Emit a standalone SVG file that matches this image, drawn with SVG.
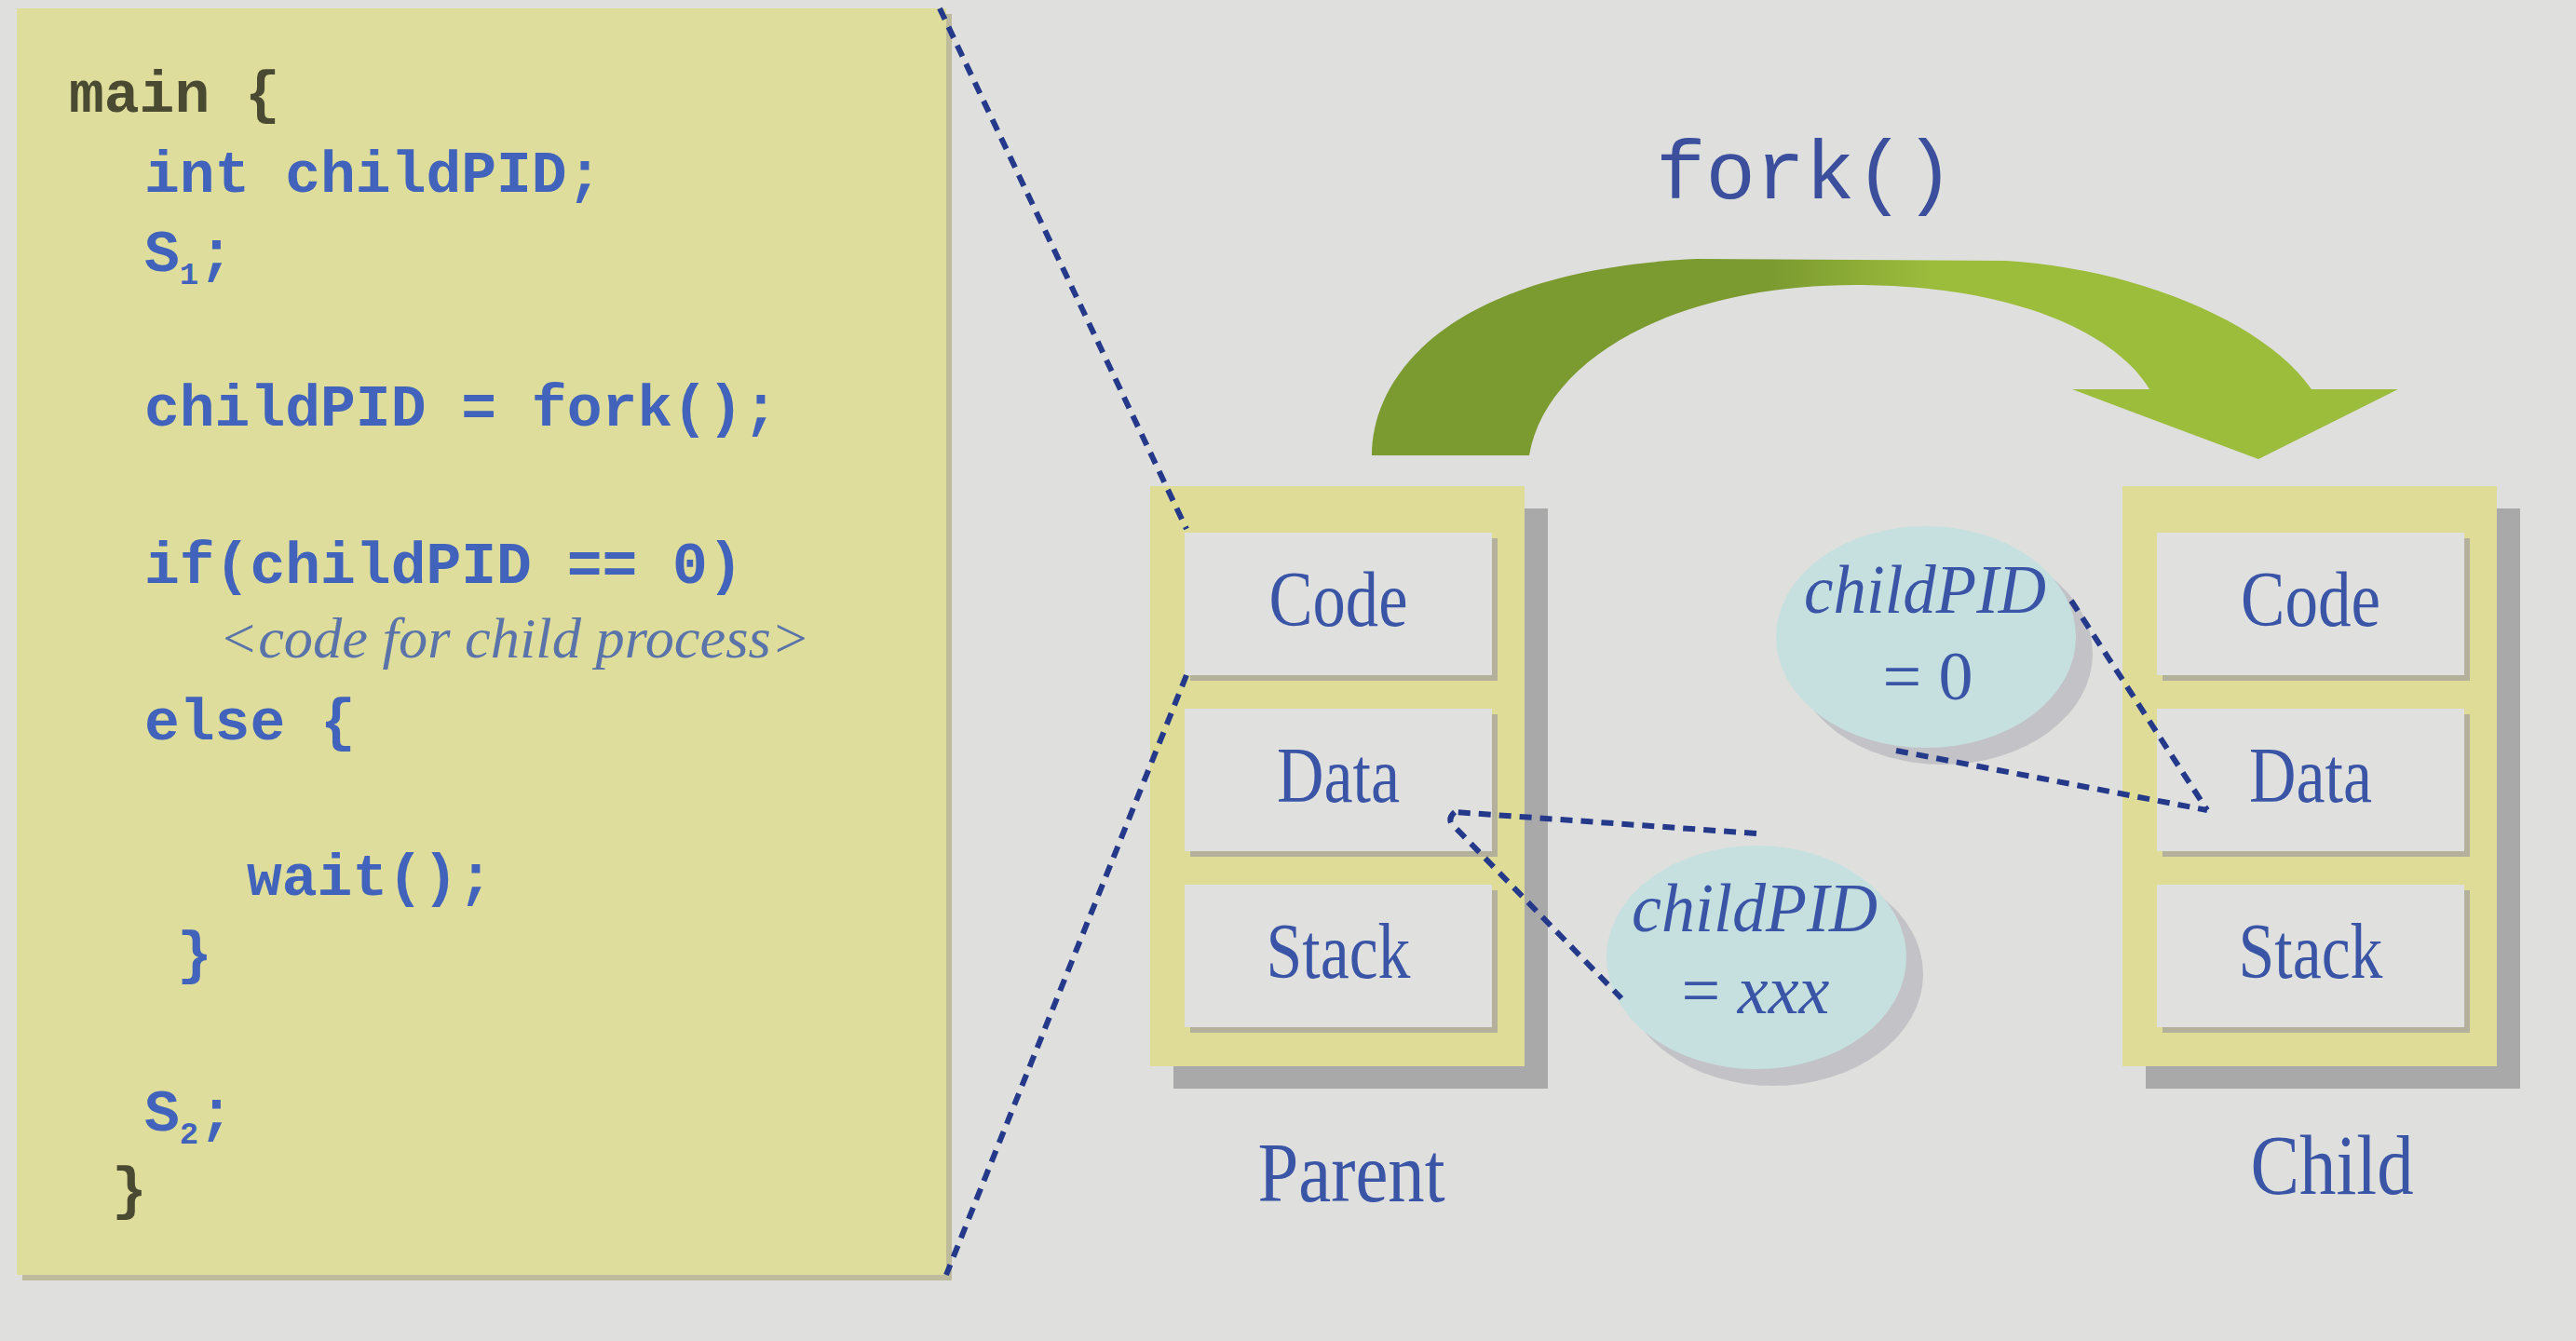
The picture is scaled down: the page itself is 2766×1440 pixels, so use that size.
<svg xmlns="http://www.w3.org/2000/svg" width="2766" height="1440" viewBox="0 0 2766 1440">
<defs>
<linearGradient id="arrowGrad" gradientUnits="userSpaceOnUse" x1="1900" y1="0" x2="2080" y2="0">
<stop offset="0" stop-color="#7b9a30"/>
<stop offset="1" stop-color="#9cbd3c"/>
</linearGradient>
<style>
.code{font-family:"Liberation Mono","DejaVu Sans Mono",monospace;font-weight:bold;font-size:63px;fill:#4163bb}
.dark{fill:#4a4a32}
.note{font-family:"Liberation Serif","DejaVu Serif",serif;font-style:italic;font-size:62px;fill:#5a74aa}
.lbl{font-family:"Liberation Serif","DejaVu Serif",serif;font-size:84px;fill:#3a55a6;text-anchor:middle}
.cap{font-family:"Liberation Serif","DejaVu Serif",serif;font-size:92px;fill:#3a55a6;text-anchor:middle}
.ell{font-family:"Liberation Serif","DejaVu Serif",serif;font-size:74px;fill:#3a55a6;text-anchor:middle}
.it{font-style:italic}
.yel{fill:#dfdc98}
.shadow{fill:#a9a9a9}
.inner{fill:#e0e0de}
.innersh{fill:#b3b19c}
.bubble{fill:#c6e0e0}
.bubsh{fill:#c3c3c7}
.dash{fill:none;stroke:#24398a;stroke-width:6;stroke-dasharray:13 9;stroke-linecap:butt}
</style>
</defs>
<rect x="0" y="0" width="2766" height="1440" fill="#dfdfdd"/>

<g id="code-panel">
<rect x="24" y="15" width="998" height="1360" fill="#bdbb9c"/>
<rect x="18" y="9" width="998" height="1360" fill="#dedd9b"/>
<text class="code dark" x="74" y="120">main {</text>
<text class="code" x="155" y="206">int childPID;</text>
<text class="code" x="155" y="291">S<tspan font-size="34" dy="14">1</tspan><tspan dy="-14">;</tspan></text>
<text class="code" x="155" y="457">childPID = fork();</text>
<text class="code" x="155" y="626">if(childPID == 0)</text>
<text class="note" x="235" y="706" textLength="635" lengthAdjust="spacingAndGlyphs">&lt;code for child process&gt;</text>
<text class="code" x="155" y="794">else {</text>
<text class="code" x="265" y="961">wait();</text>
<text class="code" x="190" y="1044">}</text>
<text class="code" x="155" y="1214">S<tspan font-size="34" dy="14">2</tspan><tspan dy="-14">;</tspan></text>
<text class="code dark" x="120" y="1297">}</text>
</g>

<g id="fork-arrow">
<text x="1778" y="213" font-family="'Liberation Mono','DejaVu Sans Mono',monospace" font-size="89" fill="#3c4f9c">fork()</text>
<path d="M1473 489 C1473 400 1560 290 1822 278 L2154 280 C2290 288 2432 345 2482 418 L2575 418 L2425 493 L2225 418 L2308 418 C2272 358 2165 308 2000 306 C1800 304 1660 385 1642 489 Z" fill="url(#arrowGrad)"/>
</g>

<g id="parent">
<rect class="shadow" x="1260" y="546" width="402" height="623"/>
<rect class="yel" x="1235" y="522" width="402" height="623"/>
<rect class="innersh" x="1278" y="578" width="330" height="153"/>
<rect class="inner" x="1272" y="572" width="330" height="153"/>
<rect class="innersh" x="1278" y="767" width="330" height="153"/>
<rect class="inner" x="1272" y="761" width="330" height="153"/>
<rect class="innersh" x="1278" y="956" width="330" height="153"/>
<rect class="inner" x="1272" y="950" width="330" height="153"/>
<text class="lbl" x="1437" y="672" textLength="149" lengthAdjust="spacingAndGlyphs">Code</text>
<text class="lbl" x="1437" y="861" textLength="132" lengthAdjust="spacingAndGlyphs">Data</text>
<text class="lbl" x="1437" y="1050" textLength="155" lengthAdjust="spacingAndGlyphs">Stack</text>
<text class="cap" x="1451" y="1290" textLength="201" lengthAdjust="spacingAndGlyphs">Parent</text>
</g>

<g id="child">
<rect class="shadow" x="2304" y="546" width="402" height="623"/>
<rect class="yel" x="2279" y="522" width="402" height="623"/>
<rect class="innersh" x="2322" y="578" width="330" height="153"/>
<rect class="inner" x="2316" y="572" width="330" height="153"/>
<rect class="innersh" x="2322" y="767" width="330" height="153"/>
<rect class="inner" x="2316" y="761" width="330" height="153"/>
<rect class="innersh" x="2322" y="956" width="330" height="153"/>
<rect class="inner" x="2316" y="950" width="330" height="153"/>
<text class="lbl" x="2481" y="672" textLength="150" lengthAdjust="spacingAndGlyphs">Code</text>
<text class="lbl" x="2481" y="861" textLength="132" lengthAdjust="spacingAndGlyphs">Data</text>
<text class="lbl" x="2481" y="1050" textLength="155" lengthAdjust="spacingAndGlyphs">Stack</text>
<text class="cap" x="2504" y="1282" textLength="175" lengthAdjust="spacingAndGlyphs">Child</text>
</g>

<g id="childpid-child">
<ellipse class="bubsh" cx="2086" cy="702" rx="161" ry="119"/>
<ellipse class="bubble" cx="2068" cy="684" rx="161" ry="119"/>
<text class="ell it" x="2067" y="658" textLength="260" lengthAdjust="spacingAndGlyphs">childPID</text>
<text class="ell" x="2070" y="751">= 0</text>
</g>

<g id="childpid-parent">
<ellipse class="bubsh" cx="1904" cy="1046" rx="161" ry="120"/>
<ellipse class="bubble" cx="1886" cy="1028" rx="161" ry="120"/>
<text class="ell it" x="1884" y="1000" textLength="264" lengthAdjust="spacingAndGlyphs">childPID</text>
<text class="ell" x="1885" y="1088">= <tspan class="it">xxx</tspan></text>
</g>

<g id="connectors">
<path class="dash" d="M1009 9 L1274 568"/>
<path class="dash" d="M1274 725 L1016 1369"/>
<path class="dash" d="M1886 895 L1562 872"/>
<path class="dash" d="M1562 872 C1555 878 1556 885 1564 890 L1741 1072"/>
<path class="dash" d="M2224 645 L2370 870"/>
<path class="dash" d="M2036 806 L2370 870"/>
</g>
</svg>
